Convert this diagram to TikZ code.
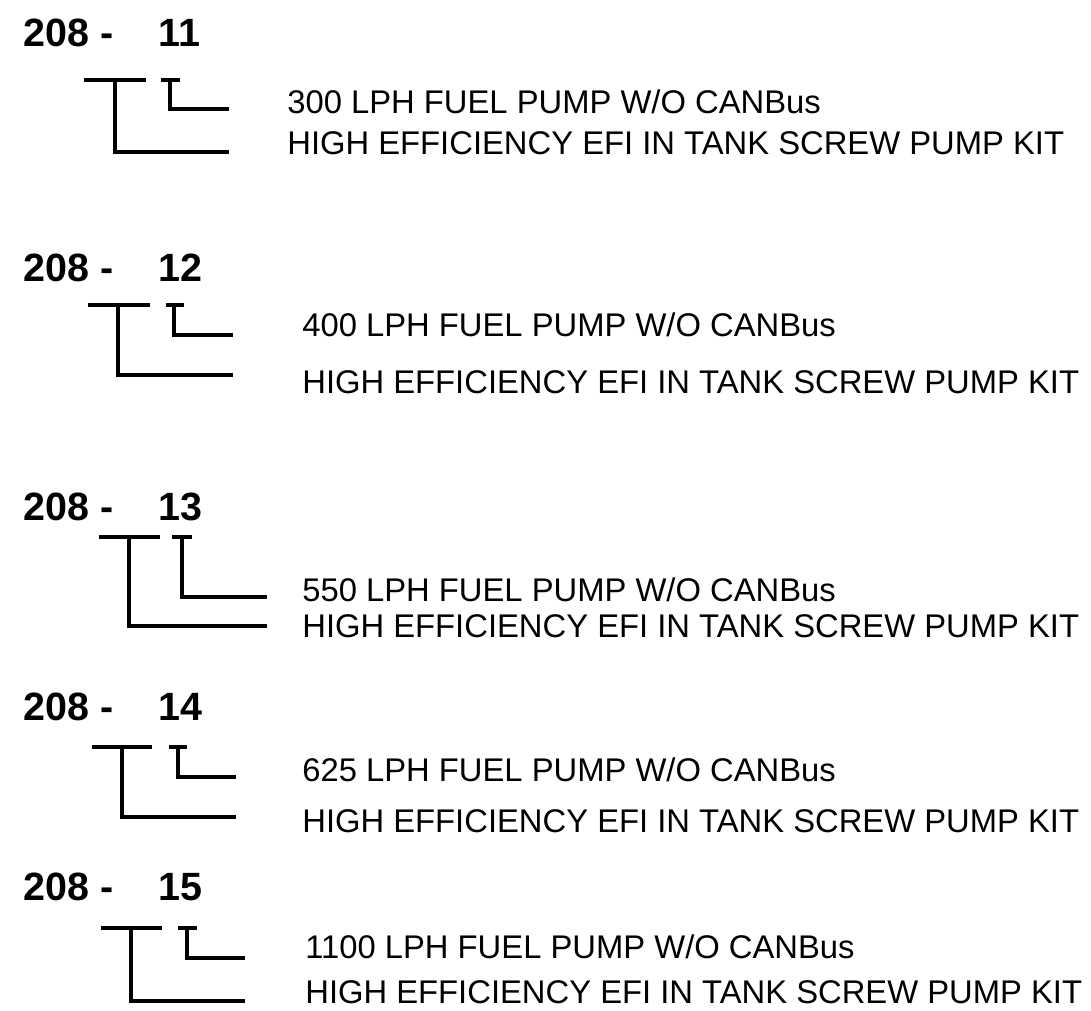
\documentclass[tikz,border=0pt]{standalone}
\usepackage{fontspec}
\setmainfont{Liberation Sans}
\usepackage{xcolor}
\usepackage{tikz}
\definecolor{PKInk}{HTML}{000000}
\tikzset{
  codetxt/.style={anchor=base west,inner sep=0pt,font=\fontsize{22.45pt}{26pt}\selectfont\bfseries,text=PKInk},
  desctxt/.style={anchor=base west,inner sep=0pt,font=\fontsize{18.65pt}{22pt}\selectfont,text=PKInk},
  bracket/.style={draw=PKInk,line width=2.1pt,line cap=butt,line join=miter}
}
\begin{document}
\begin{tikzpicture}[x=0.02cm,y=-0.02cm]
\path[use as bounding box] (0,0) rectangle (1091,1010);
\fill[white] (0,0) rectangle (1091,1010);
% 208-11
\node[codetxt] (c1) at (23,46.7) {208 -};
\node[codetxt] (n1) at (158,46.7) {11};
\node[desctxt] (d1a) at (287,114) {300 LPH FUEL PUMP W/O CANBus};
\node[desctxt] (d1b) at (287,155) {HIGH EFFICIENCY EFI IN TANK SCREW PUMP KIT};
\coordinate (k1L) at (84,80); \coordinate (k1M) at (115,80); \coordinate (k1R) at (146,80);
\coordinate (s1L) at (161,80); \coordinate (s1M) at (170,80); \coordinate (s1R) at (180,80);
\coordinate (e1a) at (229,109.3); \coordinate (e1b) at (229,151.7);
\draw[bracket] (k1L) -- (k1R);
\draw[bracket] (s1L) -- (s1R);
\draw[bracket] (s1M) |- (e1a);
\draw[bracket] (k1M) |- (e1b);
% 208-12
\node[codetxt] (c2) at (23,281.7) {208 -};
\node[codetxt] (n2) at (158,281.7) {12};
\node[desctxt] (d2a) at (302,336) {400 LPH FUEL PUMP W/O CANBus};
\node[desctxt] (d2b) at (302,393) {HIGH EFFICIENCY EFI IN TANK SCREW PUMP KIT};
\coordinate (k2L) at (88,305); \coordinate (k2M) at (118,305); \coordinate (k2R) at (150,305);
\coordinate (s2L) at (166,305); \coordinate (s2M) at (174,305); \coordinate (s2R) at (184,305);
\coordinate (e2a) at (233,335); \coordinate (e2b) at (233,375);
\draw[bracket] (k2L) -- (k2R);
\draw[bracket] (s2L) -- (s2R);
\draw[bracket] (s2M) |- (e2a);
\draw[bracket] (k2M) |- (e2b);
% 208-13
\node[codetxt] (c3) at (23,520) {208 -};
\node[codetxt] (n3) at (158,520) {13};
\node[desctxt] (d3a) at (302,601) {550 LPH FUEL PUMP W/O CANBus};
\node[desctxt] (d3b) at (302,637) {HIGH EFFICIENCY EFI IN TANK SCREW PUMP KIT};
\coordinate (k3L) at (99,536.7); \coordinate (k3M) at (129,536.7); \coordinate (k3R) at (160,536.7);
\coordinate (s3L) at (172,536.7); \coordinate (s3M) at (182,536.7); \coordinate (s3R) at (192,536.7);
\coordinate (e3a) at (267,596.7); \coordinate (e3b) at (267,625.7);
\draw[bracket] (k3L) -- (k3R);
\draw[bracket] (s3L) -- (s3R);
\draw[bracket] (s3M) |- (e3a);
\draw[bracket] (k3M) |- (e3b);
% 208-14
\node[codetxt] (c4) at (23,720) {208 -};
\node[codetxt] (n4) at (158,720) {14};
\node[desctxt] (d4a) at (302,781) {625 LPH FUEL PUMP W/O CANBus};
\node[desctxt] (d4b) at (302,832) {HIGH EFFICIENCY EFI IN TANK SCREW PUMP KIT};
\coordinate (k4L) at (92,746.7); \coordinate (k4M) at (122,746.7); \coordinate (k4R) at (152,746.7);
\coordinate (s4L) at (169,746.7); \coordinate (s4M) at (178,746.7); \coordinate (s4R) at (187,746.7);
\coordinate (e4a) at (236,776.7); \coordinate (e4b) at (236,817);
\draw[bracket] (k4L) -- (k4R);
\draw[bracket] (s4L) -- (s4R);
\draw[bracket] (s4M) |- (e4a);
\draw[bracket] (k4M) |- (e4b);
% 208-15
\node[codetxt] (c5) at (23,900) {208 -};
\node[codetxt] (n5) at (158,900) {15};
\node[desctxt] (d5a) at (305,958) {1100 LPH FUEL PUMP W/O CANBus};
\node[desctxt] (d5b) at (305,1003) {HIGH EFFICIENCY EFI IN TANK SCREW PUMP KIT};
\coordinate (k5L) at (101,928.3); \coordinate (k5M) at (131,928.3); \coordinate (k5R) at (162,928.3);
\coordinate (s5L) at (178,928.3); \coordinate (s5M) at (187,928.3); \coordinate (s5R) at (197,928.3);
\coordinate (e5a) at (245,958.3); \coordinate (e5b) at (245,1000.7);
\draw[bracket] (k5L) -- (k5R);
\draw[bracket] (s5L) -- (s5R);
\draw[bracket] (s5M) |- (e5a);
\draw[bracket] (k5M) |- (e5b);
\end{tikzpicture}
\end{document}
